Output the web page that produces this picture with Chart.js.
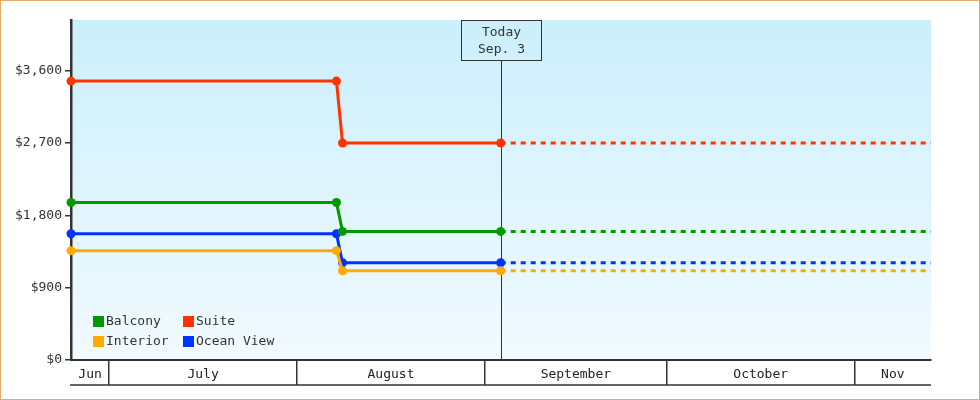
<!DOCTYPE html>
<html><head><meta charset="utf-8">
<script src="https://cdn.jsdelivr.net/npm/chart.js@4.4.0/dist/chart.umd.min.js"></script>
<style>html,body{margin:0;padding:0;background:#fff}#wrap{width:980px;height:400px;position:relative}canvas{display:block}</style>
</head><body><div id="wrap"><canvas id="c" width="980" height="400"></canvas></div>
<script>
// x values are days counted from July 1
const pointDays = [-6.3, 37.5, 38.5, 64.6, 135.6];
const balcony   = [1960, 1960, 1600, 1600, 1600];
const suite     = [3470, 3470, 2700, 2700, 2700];
const interior  = [1360, 1360, 1110, 1110, 1110];
const oceanView = [1570, 1570, 1210, 1210, 1210];
const seriesNames = ['Balcony', 'Suite', 'Interior', 'Ocean View'];
const yTickValues = [0, 900, 1800, 2700, 3600];
const monthLabels = ['Jun', 'July', 'August', 'September', 'October', 'Nov'];
const monthStarts = [0, 31, 62, 92, 123];
const xMin = -6.3, xMax = 135.6, yMax = 4230;
const todayDay = 64.6;
const todayLabel = ['Today', 'Sep. 3'];

const FONT = "'DejaVu Sans Mono', monospace";
const colors = {'Balcony':'#009900','Suite':'#ff3300','Interior':'#ffaa00','Ocean View':'#0033ff'};
const values = {'Balcony':balcony,'Suite':suite,'Interior':interior,'Ocean View':oceanView};

const bounds = [xMin].concat(monthStarts, [xMax]);
const mids = [];
for (let i = 0; i < bounds.length - 1; i++) mids.push((bounds[i] + bounds[i+1]) / 2);
const xTickValues = monthStarts.concat(mids).sort((a,b)=>a-b);

const drawOrder = ['Balcony','Interior','Ocean View','Suite'];
const datasets = drawOrder.map(name => ({
  label: name,
  data: pointDays.map((x, i) => ({x, y: values[name][i]})),
  borderColor: colors[name],
  backgroundColor: colors[name],
  borderWidth: 3,
  pointRadius: ctx => ctx.dataIndex === pointDays.length - 1 ? 0 : 4.5,
  pointHoverRadius: 0,
  pointBackgroundColor: colors[name],
  pointBorderWidth: 0,
  tension: 0,
  fill: false,
  clip: false,
  segment: { borderDash: ctx => ctx.p0.parsed.x >= todayDay - 0.01 ? [5,5] : undefined }
}));

const framePlugin = {
  id: 'frame',
  beforeDraw(chart) {
    const {ctx, chartArea: a} = chart;
    ctx.save();
    ctx.fillStyle = '#fff';
    ctx.fillRect(0, 0, chart.width, chart.height);
    const g = ctx.createLinearGradient(0, a.top, 0, a.bottom);
    g.addColorStop(0, '#cbeffc');
    g.addColorStop(1, '#f2faff');
    ctx.fillStyle = g;
    ctx.fillRect(a.left, a.top, a.right - a.left, a.bottom - a.top);
    ctx.restore();
  },
  beforeDatasetsDraw(chart) {
    const {ctx, chartArea: a} = chart;
    const x = Math.round(chart.scales.x.getPixelForValue(todayDay)) + 0.5;
    ctx.save();
    ctx.strokeStyle = '#333';
    ctx.lineWidth = 1;
    const bw = 80, bh = 40;
    ctx.strokeRect(x - bw/2, a.top + 0.5, bw, bh);
    ctx.beginPath();
    ctx.moveTo(x, a.top + bh + 0.5);
    ctx.lineTo(x, a.bottom);
    ctx.stroke();
    ctx.fillStyle = '#333';
    ctx.font = '13px ' + FONT;
    ctx.textAlign = 'center';
    ctx.textBaseline = 'middle';
    ctx.fillText(todayLabel[0], x, a.top + 13);
    ctx.fillText(todayLabel[1], x, a.top + 30);
    ctx.restore();
  },
  afterDraw(chart) {
    const {ctx, chartArea: a} = chart;
    ctx.save();
    // bottom line of month band
    ctx.strokeStyle = '#333';
    ctx.lineWidth = 1.5;
    ctx.beginPath();
    ctx.moveTo(a.left - 1, a.bottom + 25);
    ctx.lineTo(a.right, a.bottom + 25);
    ctx.stroke();
    // legend
    const layout = [['Balcony', 0, 0], ['Suite', 1, 0], ['Interior', 0, 1], ['Ocean View', 1, 1]];
    ctx.font = '13px ' + FONT;
    ctx.textBaseline = 'middle';
    ctx.textAlign = 'left';
    layout.forEach(([name, col, row]) => {
      const sx = a.left + 22 + col * 90;
      const sy = a.bottom - 44 + row * 20;
      ctx.fillStyle = colors[name];
      ctx.fillRect(sx, sy, 11, 11);
      ctx.fillStyle = '#333';
      ctx.fillText(name, sx + 13, sy + 6);
    });
    // outer frame
    ctx.strokeStyle = '#e9aa66';
    ctx.lineWidth = 1;
    ctx.strokeRect(0.5, 0.5, chart.width - 1, chart.height - 1);
    ctx.restore();
  }
};

new Chart(document.getElementById('c'), {
  type: 'line',
  data: { datasets },
  options: {
    responsive: false,
    animation: false,
    devicePixelRatio: 1,
    layout: { padding: { top: 20, right: 49, bottom: 0, left: 0 } },
    plugins: { legend: { display: false }, tooltip: { enabled: false } },
    events: [],
    scales: {
      x: {
        type: 'linear',
        min: xMin, max: xMax,
        afterBuildTicks: s => { s.ticks = xTickValues.map(v => ({value: v})); },
        afterFit: s => { s.height = 40; },
        grid: {
          drawOnChartArea: false, drawTicks: true, tickLength: 25, lineWidth: 1.5,
          color: ctx => (ctx.tick && monthStarts.includes(ctx.tick.value)) ? '#333' : 'rgba(0,0,0,0)'
        },
        border: { display: true, color: '#333', width: 2 },
        ticks: {
          autoSkip: false, maxRotation: 0, minRotation: 0, padding: -18,
          color: '#222', font: { family: FONT, size: 13 },
          callback: v => { const i = mids.indexOf(v); return i >= 0 ? monthLabels[i] : ''; }
        }
      },
      y: {
        type: 'linear',
        min: 0, max: yMax,
        afterBuildTicks: s => { s.ticks = yTickValues.map(v => ({value: v})); },
        afterFit: s => { s.width = 71; },
        grid: { drawOnChartArea: false, drawTicks: true, tickLength: 6, lineWidth: 1.5, color: '#333' },
        border: { display: true, color: '#333', width: 2.5 },
        ticks: {
          padding: 3, color: '#333', font: { family: FONT, size: 13 },
          callback: v => '$' + Number(v).toLocaleString('en-US')
        }
      }
    }
  },
  plugins: [framePlugin]
});
</script></body></html>
